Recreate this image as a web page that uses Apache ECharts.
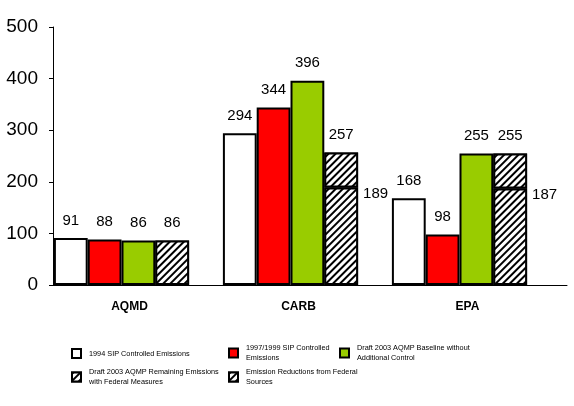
<!DOCTYPE html>
<html>
<head>
<meta charset="utf-8">
<script src="https://cdn.jsdelivr.net/npm/echarts@6/dist/echarts.min.js"></script>
<style>
  html, body { margin: 0; padding: 0; background: #fff; }
  #chart { width: 574px; height: 406px; }
</style>
</head>
<body>
<div id="chart"></div>
<script>
var categories = ['AQMD', 'CARB', 'EPA'];
var sip1994 = [91, 294, 168];
var sip1997 = [88, 344, 98];
var baseline2003 = [86, 396, 255];
var remainingFed = [86, 189, 187];
var fedReductions = [0, 68, 68];
var yTicks = [0, 100, 200, 300, 400, 500];

var names = [
    '1994 SIP Controlled Emissions',
    '1997/1999 SIP Controlled Emissions',
    'Draft 2003 AQMP Baseline without Additional Control',
    'Draft 2003 AQMP Remaining Emissions with Federal Measures',
    'Emission Reductions from Federal Sources'
];
// legend wraps long names onto two lines like the original
var legendText = {};
legendText[names[0]] = names[0];
legendText[names[1]] = '1997/1999 SIP Controlled\nEmissions';
legendText[names[2]] = 'Draft 2003 AQMP Baseline without\nAdditional Control';
legendText[names[3]] = 'Draft 2003 AQMP Remaining Emissions\nwith Federal Measures';
legendText[names[4]] = 'Emission Reductions from Federal\nSources';

var font = 'Arial, Liberation Sans';
var hatch = {
    symbol: 'rect',
    symbolSize: 1,
    color: '#000',
    backgroundColor: '#fff',
    dashArrayX: [1, 0],
    dashArrayY: [2, 3],
    rotation: -Math.PI / 4
};

function topLabel() {
    return {
        show: true, position: 'top', distance: 10,
        color: '#000', fontSize: 15, fontFamily: font
    };
}

var chart = echarts.init(document.getElementById('chart'));

// icon top-left of each legend entry
var legendPos = [
    {left: 71, top: 348}, {left: 228, top: 348}, {left: 339, top: 348},
    {left: 71, top: 372}, {left: 228, top: 372}
];
var legends = names.map(function (n, i) {
    var twoLines = legendText[n].indexOf('\n') >= 0;
    return {
        data: [{name: n, icon: 'rect'}],
        left: legendPos[i].left,
        // the padded two-line text block grows upwards, so move it up to keep the icon in place
        top: twoLines ? legendPos[i].top - 10 : legendPos[i].top,
        padding: 0,
        itemWidth: 9,
        itemHeight: 9,
        itemGap: 0,
        selectedMode: false,
        formatter: function (name) { return legendText[name]; },
        textStyle: {
            fontSize: 7.3, fontFamily: font, color: '#000',
            lineHeight: 10, padding: twoLines ? [10, 0, 0, 3] : [0, 0, 0, 3]
        }
    };
});

var option = {
    animation: false,
    backgroundColor: '#fff',
    legend: legends,
    grid: [
        {left: 37, width: 507, top: 27, height: 258},
        {left: 53, right: 7, top: 27, height: 258}
    ],
    xAxis: [
        {
            type: 'category', gridIndex: 0, data: categories,
            axisLine: {show: false}, axisTick: {show: false},
            axisLabel: {
                color: '#000', fontWeight: 'bold', fontSize: 12,
                fontFamily: font, margin: 16, padding: [0, 0, 0, 16]
            }
        },
        {
            type: 'value', gridIndex: 1, min: 0, max: 1,
            axisLine: {show: true, lineStyle: {color: '#000', width: 1}},
            axisTick: {show: false}, axisLabel: {show: false},
            splitLine: {show: false}
        }
    ],
    yAxis: [
        {
            type: 'value', gridIndex: 0, min: 0, max: 500, interval: 100,
            show: false
        },
        {
            type: 'value', gridIndex: 1, min: yTicks[0], max: yTicks[yTicks.length - 1],
            interval: 100,
            axisLine: {show: true, lineStyle: {color: '#000', width: 1}},
            axisTick: {show: true, length: 4, lineStyle: {color: '#000'}},
            axisLabel: {
                color: '#000', fontSize: 19, fontFamily: font, margin: 15
            },
            splitLine: {show: false}
        }
    ],
    series: [
        {
            name: names[0], type: 'bar', data: sip1994,
            barGap: 0, barCategoryGap: '20%',
            itemStyle: {color: '#fff', borderColor: '#000', borderWidth: 2},
            label: topLabel()
        },
        {
            name: names[1], type: 'bar', data: sip1997,
            itemStyle: {color: '#ff0000', borderColor: '#000', borderWidth: 2},
            label: topLabel()
        },
        {
            name: names[2], type: 'bar', data: baseline2003,
            itemStyle: {color: '#99cc00', borderColor: '#000', borderWidth: 2},
            label: topLabel()
        },
        {
            name: names[3], type: 'bar', stack: 'fed',
            data: remainingFed.map(function (v, i) {
                var lbl = topLabel();
                if (fedReductions[i] > 0) {
                    // value sits to the right of the lower part when a reduction is stacked on top
                    lbl.position = ['100%', 0];
                    lbl.offset = [5, 6];
                    lbl.align = 'left';
                    lbl.verticalAlign = 'middle';
                }
                return {value: v, label: lbl};
            }),
            itemStyle: {color: '#fff', borderColor: '#000', borderWidth: 2, decal: hatch}
        },
        {
            name: names[4], type: 'bar', stack: 'fed',
            data: fedReductions.map(function (v) { return v > 0 ? v : null; }),
            itemStyle: {color: '#fff', borderColor: '#000', borderWidth: 2, decal: hatch},
            label: {
                show: true, position: 'top', distance: 10,
                color: '#000', fontSize: 15, fontFamily: font,
                formatter: function (p) {
                    return remainingFed[p.dataIndex] + fedReductions[p.dataIndex];
                }
            }
        }
    ]
};

chart.setOption(option);
</script>
</body>
</html>
